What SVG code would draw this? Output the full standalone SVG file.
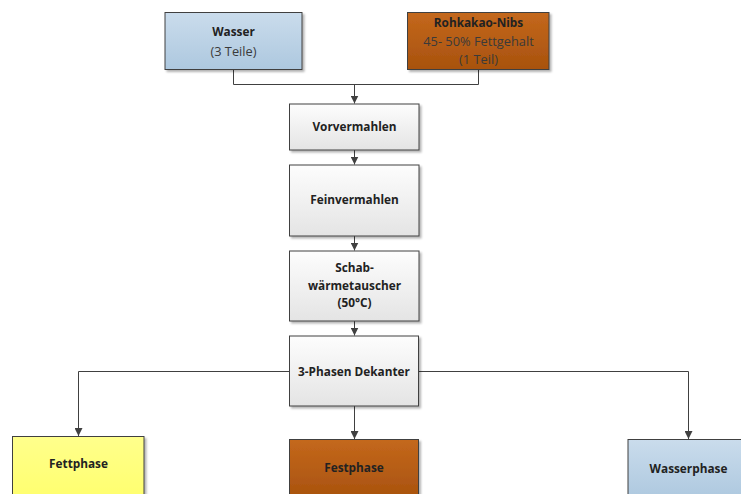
<svg xmlns="http://www.w3.org/2000/svg" width="741" height="494" viewBox="0 0 741 494">
<defs>
<linearGradient id="gGray" x1="0" y1="0" x2="0" y2="1"><stop offset="0" stop-color="#fdfdfd"/><stop offset="1" stop-color="#e4e4e4"/></linearGradient>
<linearGradient id="gBlue" x1="0" y1="0" x2="0" y2="1"><stop offset="0" stop-color="#cadcec"/><stop offset="1" stop-color="#adc8df"/></linearGradient>
<linearGradient id="gBrown" x1="0" y1="0" x2="0" y2="1"><stop offset="0" stop-color="#c4681c"/><stop offset="1" stop-color="#a8520e"/></linearGradient>
<linearGradient id="gYellow" x1="0" y1="0" x2="0" y2="1"><stop offset="0" stop-color="#ffff8c"/><stop offset="1" stop-color="#ffff6e"/></linearGradient>
<filter id="sh" x="-10%" y="-10%" width="130%" height="130%"><feGaussianBlur in="SourceAlpha" stdDeviation="1.2"/><feOffset dx="2" dy="2"/><feComponentTransfer><feFuncA type="linear" slope="0.3"/></feComponentTransfer><feMerge><feMergeNode/><feMergeNode in="SourceGraphic"/></feMerge></filter>
<marker id="arr" markerWidth="8" markerHeight="8" refX="8" refY="4" orient="auto" markerUnits="userSpaceOnUse"><path d="M0,0 L8,4 L0,8 z" fill="#404040"/></marker>
</defs>
<style>
.box{stroke:#404040;stroke-width:1;filter:url(#sh)}
.b{font-family:"Open Sans","Liberation Sans",sans-serif;font-weight:bold;font-size:11.8px;fill:#222;text-anchor:middle}
.n{font-family:"Open Sans","Liberation Sans",sans-serif;font-size:12.8px;fill:#3a3a3a;text-anchor:middle}
.c{fill:none;stroke:#404040;stroke-width:1}
</style>
<rect width="741" height="494" fill="#fff"/>
<g id="connectors">
<path class="c" d="M233.5,69 V84.5 H478.5 V69"/>
<path class="c" d="M354.5,84.5 V103.5" marker-end="url(#arr)"/>
<path class="c" d="M354.5,150 V164.5" marker-end="url(#arr)"/>
<path class="c" d="M354.5,236 V250.5" marker-end="url(#arr)"/>
<path class="c" d="M354.5,321 V335.5" marker-end="url(#arr)"/>
<path class="c" d="M289,371.5 H78.5 V436" marker-end="url(#arr)"/>
<path class="c" d="M418.5,371.5 H688.5 V439" marker-end="url(#arr)"/>
<path class="c" d="M354.5,406 V439" marker-end="url(#arr)"/>
</g>
<g id="wasser">
<rect class="box" x="165" y="12.5" width="137" height="57" fill="url(#gBlue)"/>
<text class="b" x="233.5" y="36">Wasser</text>
<text class="n" x="233.5" y="55.5">(3 Teile)</text>
</g>
<g id="rohkakao">
<rect class="box" x="407.5" y="12.5" width="141.5" height="57" fill="url(#gBrown)"/>
<text class="b" x="478.5" y="27">Rohkakao-Nibs</text>
<text class="n" x="478.5" y="45.5">45- 50% Fettgehalt</text>
<text class="n" x="478.5" y="63.5">(1 Teil)</text>
</g>
<g id="vorvermahlen">
<rect class="box" x="289.5" y="104" width="129.5" height="46" fill="url(#gGray)"/>
<text class="b" x="354.5" y="131">Vorvermahlen</text>
</g>
<g id="feinvermahlen">
<rect class="box" x="289.5" y="165" width="129.5" height="71" fill="url(#gGray)"/>
<text class="b" x="354.5" y="204">Feinvermahlen</text>
</g>
<g id="schab">
<rect class="box" x="289.5" y="251" width="129.5" height="70" fill="url(#gGray)"/>
<text class="b" x="354.5" y="272">Schab-</text>
<text class="b" x="354.5" y="290">wärmetauscher</text>
<text class="b" x="354.5" y="307">(50°C)</text>
</g>
<g id="dekanter">
<rect class="box" x="289.5" y="336" width="129" height="70" fill="url(#gGray)"/>
<text class="b" x="354" y="375.5">3-Phasen Dekanter</text>
</g>
<g id="fettphase">
<rect class="box" x="12.5" y="436.5" width="131.5" height="62" fill="url(#gYellow)"/>
<text class="b" x="78.5" y="468">Fettphase</text>
</g>
<g id="festphase">
<rect class="box" x="289.5" y="439.5" width="129" height="60" fill="url(#gBrown)"/>
<text class="b" x="354" y="472">Festphase</text>
</g>
<g id="wasserphase">
<rect class="box" x="628" y="439.5" width="120" height="60" fill="url(#gBlue)"/>
<text class="b" x="688.5" y="473">Wasserphase</text>
</g>
</svg>
